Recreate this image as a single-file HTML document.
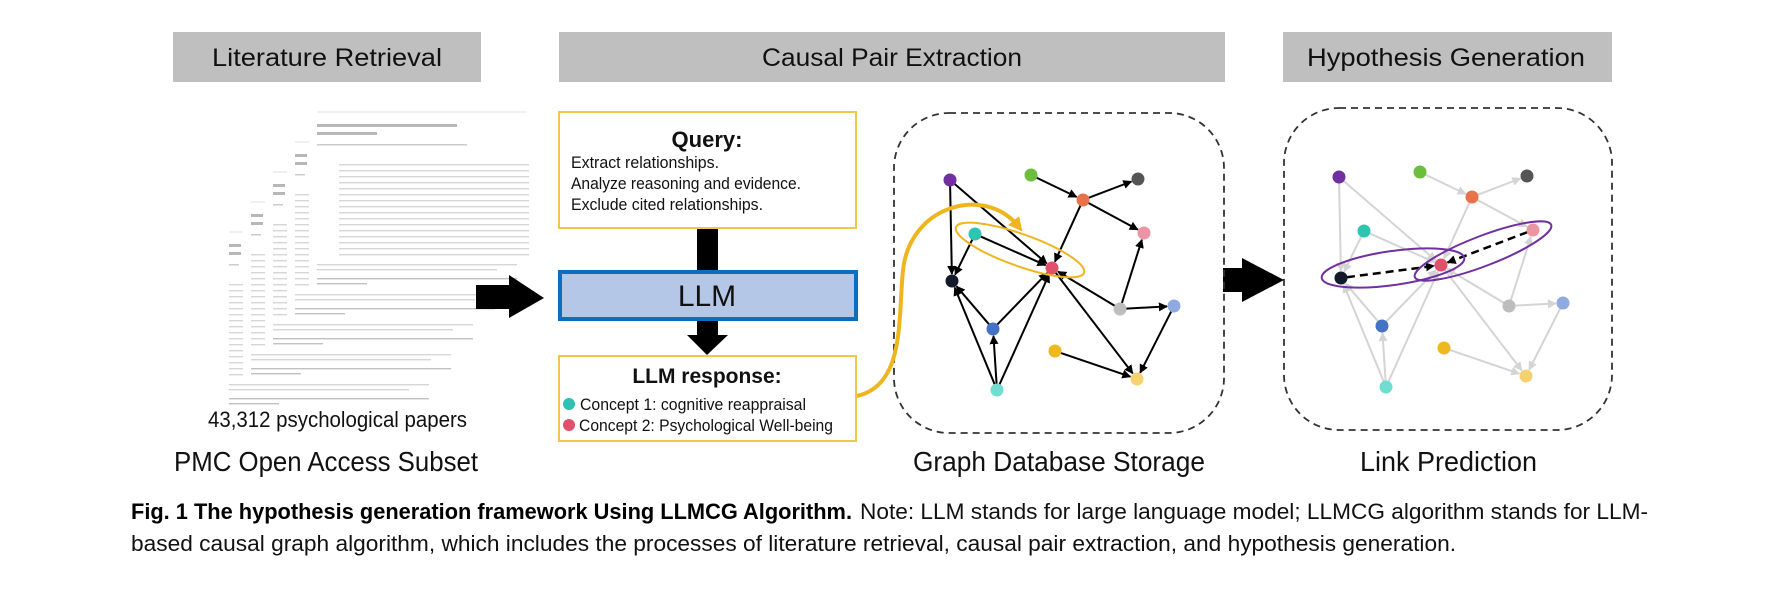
<!DOCTYPE html>
<html><head><meta charset="utf-8"><style>
html,body{margin:0;padding:0;background:#fff;}
svg{display:block;}
text{font-family:"Liberation Sans",sans-serif;}
</style></head><body>
<svg id="s" width="1786" height="602" viewBox="0 0 1786 602" xmlns="http://www.w3.org/2000/svg">
<defs>
<marker id="ab" viewBox="0 0 10 10" refX="9" refY="5" markerWidth="9" markerHeight="9" orient="auto" markerUnits="userSpaceOnUse"><path d="M0,0 L10,5 L0,10 z" fill="#000"/></marker>
<marker id="ag" viewBox="0 0 10 10" refX="9" refY="5" markerWidth="9" markerHeight="9" orient="auto" markerUnits="userSpaceOnUse"><path d="M0,0 L10,5 L0,10 z" fill="#d4d4d4"/></marker>
<marker id="ay" viewBox="0 0 10 10" refX="5" refY="5" markerWidth="14" markerHeight="14" orient="auto" markerUnits="userSpaceOnUse"><path d="M0,0 L10,5 L0,10 z" fill="#eeb51e"/></marker>
</defs>
<rect x="173" y="32" width="308" height="50" fill="#bfbfbf"/>
<rect x="559" y="32" width="666" height="50" fill="#bfbfbf"/>
<rect x="1283" y="32" width="329" height="50" fill="#bfbfbf"/>
<text x="212" y="66" font-size="25" textLength="230" lengthAdjust="spacingAndGlyphs" fill="#111">Literature Retrieval</text>
<text x="762" y="66" font-size="25" textLength="260" lengthAdjust="spacingAndGlyphs" fill="#111">Causal Pair Extraction</text>
<text x="1307" y="66" font-size="25" textLength="278" lengthAdjust="spacingAndGlyphs" fill="#111">Hypothesis Generation</text>
<g id="papers" opacity="0.6"></g>
<text x="208" y="427" font-size="22" textLength="259" lengthAdjust="spacingAndGlyphs" fill="#111">43,312 psychological papers</text>
<text x="174" y="471" font-size="28" textLength="304" lengthAdjust="spacingAndGlyphs" fill="#111">PMC Open Access Subset</text>
<path d="M476,285 H509 V275 L544,298 L509,318 V309 H476 Z" fill="#000"/>
<path d="M1223,268 H1242 V258 L1284,280 L1242,302 V292 H1223 Z" fill="#000"/>
<rect x="559" y="112" width="297" height="116" fill="#fff" stroke="#f2c64a" stroke-width="2"/>
<text x="707" y="147" font-size="22" font-weight="bold" text-anchor="middle" fill="#111">Query:</text>
<text x="571" y="168" font-size="17" textLength="148" lengthAdjust="spacingAndGlyphs" fill="#111">Extract relationships.</text>
<text x="571" y="189" font-size="17" textLength="230" lengthAdjust="spacingAndGlyphs" fill="#111">Analyze reasoning and evidence.</text>
<text x="571" y="210" font-size="17" textLength="192" lengthAdjust="spacingAndGlyphs" fill="#111">Exclude cited relationships.</text>
<rect x="697" y="229" width="21" height="41" fill="#000"/>
<rect x="560" y="272" width="296" height="47" fill="#b4c7e7" stroke="#0b6fc0" stroke-width="4"/>
<text x="707" y="306" font-size="30" text-anchor="middle" fill="#111">LLM</text>
<path d="M697,321 H718 V335 H728 L707,355 L687,335 H697 Z" fill="#000"/>
<rect x="559" y="356" width="297" height="85" fill="#fff" stroke="#f2c64a" stroke-width="2"/>
<text x="707" y="383" font-size="21" font-weight="bold" text-anchor="middle" fill="#111">LLM response:</text>
<circle cx="569" cy="404" r="6" fill="#2ec0b0"/>
<text x="580" y="410" font-size="17" textLength="226" lengthAdjust="spacingAndGlyphs" fill="#111">Concept 1: cognitive reappraisal</text>
<circle cx="569" cy="425" r="6" fill="#e0506a"/>
<text x="579" y="431" font-size="17" textLength="254" lengthAdjust="spacingAndGlyphs" fill="#111">Concept 2: Psychological Well-being</text>
<rect x="894" y="113" width="330" height="320" rx="55" fill="none" stroke="#333" stroke-width="1.8" stroke-dasharray="7,5"/>
<rect x="1284" y="108" width="328" height="322" rx="55" fill="none" stroke="#333" stroke-width="1.8" stroke-dasharray="7,5"/>
<g id="g1"></g><g id="g2"></g>
<ellipse cx="1020" cy="250" rx="68" ry="16" transform="rotate(19.6 1020 250)" fill="none" stroke="#eeb51e" stroke-width="2"/>
<path d="M857,396 C 905,385 898,320 903,270 C 910,205 985,185 1018,226" fill="none" stroke="#eeb51e" stroke-width="4" marker-end="url(#ay)"/>
<ellipse cx="1393" cy="268" rx="72" ry="17" transform="rotate(-8 1393 268)" fill="none" stroke="#7030a0" stroke-width="2"/>
<ellipse cx="1483" cy="251" rx="73" ry="15" transform="rotate(-21 1483 251)" fill="none" stroke="#7030a0" stroke-width="2"/>
<text x="913" y="471" font-size="28" textLength="292" lengthAdjust="spacingAndGlyphs" fill="#111">Graph Database Storage</text>
<text x="1360" y="471" font-size="28" textLength="177" lengthAdjust="spacingAndGlyphs" fill="#111">Link Prediction</text>
<text x="131" y="519" font-size="22" font-weight="bold" textLength="721" lengthAdjust="spacingAndGlyphs" fill="#000">Fig. 1 The hypothesis generation framework Using LLMCG Algorithm.</text>
<text x="860" y="519" font-size="22" textLength="788" lengthAdjust="spacingAndGlyphs" fill="#111">Note: LLM stands for large language model; LLMCG algorithm stands for LLM-</text>
<text x="131" y="551" font-size="22" textLength="1325" lengthAdjust="spacingAndGlyphs" fill="#111">based causal graph algorithm, which includes the processes of literature retrieval, causal pair extraction, and hypothesis generation.</text>
</svg>
<script>
var NS="http://www.w3.org/2000/svg";
function el(p,t,a){var e=document.createElementNS(NS,t);for(var k in a)e.setAttribute(k,a[k]);p.appendChild(e);return e;}
var N={pu:[950,180,"#7030a0"],gr:[1031,175,"#6cbf3c"],dg:[1138,179,"#555"],or:[1083,200,"#e8734a"],pk:[1144,233,"#ec94a4"],te:[975,234,"#2ec4b0"],bk:[952,281,"#151a2a"],rd:[1052,268,"#e0506a"],lg:[1120,309,"#bdbdbd"],lb:[1174,306,"#8eaae0"],bl:[993,329,"#4472c4"],ye:[1055,351,"#efb820"],y2:[1137,379,"#f5d170"],cy:[997,390,"#70ddd0"]};
var E=[["pu","bk"],["pu","rd"],["te","bk"],["te","rd"],["gr","or"],["or","dg"],["or","rd"],["or","pk"],["bl","bk"],["bl","rd"],["cy","bk"],["cy","bl"],["cy","rd"],["lg","rd"],["lg","pk"],["lg","lb"],["lb","y2"],["ye","y2"],["rd","y2"]];
function draw(g,dx,dy,col,mk,skip){
 E.forEach(function(e){var a=N[e[0]],b=N[e[1]];var x1=a[0]+dx,y1=a[1]+dy,x2=b[0]+dx,y2=b[1]+dy;var L=Math.hypot(x2-x1,y2-y1);var ux=(x2-x1)/L,uy=(y2-y1)/L;
 el(g,"line",{x1:x1+ux*6,y1:y1+uy*6,x2:x2-ux*7,y2:y2-uy*7,stroke:col,"stroke-width":2,"marker-end":"url(#"+mk+")"});});
 if(skip){[["bk","rd"],["pk","rd"]].forEach(function(e){var a=N[e[0]],b=N[e[1]];var x1=a[0]+dx,y1=a[1]+dy,x2=b[0]+dx,y2=b[1]+dy;var L=Math.hypot(x2-x1,y2-y1);var ux=(x2-x1)/L,uy=(y2-y1)/L;
 el(g,"line",{x1:x1+ux*6,y1:y1+uy*6,x2:x2-ux*7,y2:y2-uy*7,stroke:"#000","stroke-width":2.5,"stroke-dasharray":"8,5","marker-end":"url(#ab)"});});}
 for(var k in N){el(g,"circle",{cx:N[k][0]+dx,cy:N[k][1]+dy,r:6.5,fill:N[k][2]});}
}
draw(document.getElementById("g1"),0,0,"#000","ab",false);
draw(document.getElementById("g2"),389,-3,"#d4d4d4","ag",true);
var P=document.getElementById("papers");
for(var i=4;i>=0;i--){var x=317-22*i,y=112+30*i;
 el(P,"rect",{x:x-6,y:y-4,width:220,height:160,fill:"#fff"});
 el(P,"line",{x1:x,y1:y,x2:x+(i==0?210:14),y2:y,stroke:"#ccc","stroke-width":1});
 el(P,"rect",{x:x,y:y+12,width:i==0?140:12,height:3,fill:"#888"});
 el(P,"rect",{x:x,y:y+20,width:i==0?60:12,height:3,fill:"#888"});
 el(P,"rect",{x:x,y:y+32,width:i==0?150:10,height:1.5,fill:"#aaa"});
 for(var j=0;j<16;j++){el(P,"rect",{x:x+(i==0?22:0),y:y+52+j*6,width:i==0?190:14,height:1.4,fill:"#bbb"});}
 el(P,"rect",{x:x,y:y+152,width:200,height:1.4,fill:"#bbb"});
 el(P,"rect",{x:x,y:y+157,width:180,height:1.4,fill:"#bbb"});
 el(P,"rect",{x:x,y:y+166,width:200,height:1.4,fill:"#999"});
 el(P,"rect",{x:x,y:y+171,width:50,height:1.4,fill:"#999"});
}
</script>
</body></html>
